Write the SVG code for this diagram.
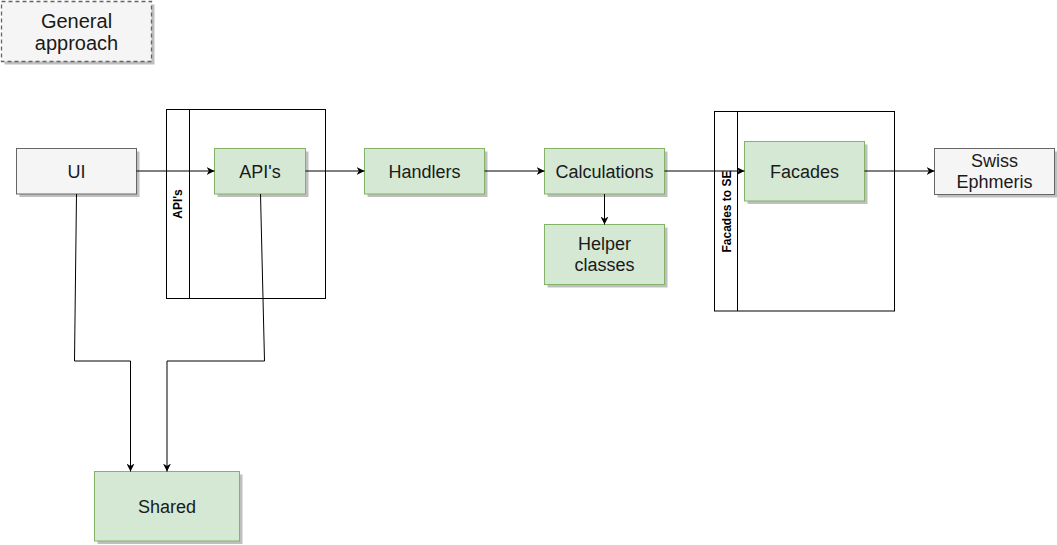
<svg xmlns="http://www.w3.org/2000/svg" width="1057" height="545" viewBox="0 0 1057 545">
<defs>
<style>
.t{font-family:"Liberation Sans",Arial,sans-serif;font-size:18px;fill:#1a1a1a;text-anchor:middle}
.lane{fill:#ffffff;stroke:#000000;stroke-width:1}
.lt{font-family:"Liberation Sans",Arial,sans-serif;font-size:12px;font-weight:bold;fill:#000;text-anchor:middle}
.green{fill:#d5e8d4;stroke:#82b366;stroke-width:1}
.gray{fill:#f5f5f5;stroke:#666666;stroke-width:1}
.sh{fill:#000;opacity:0.25}
.e{fill:none;stroke:#000;stroke-width:1}
</style>
<marker id="arr" viewBox="0 0 10 10" refX="10" refY="5" markerWidth="8" markerHeight="8" markerUnits="userSpaceOnUse" orient="auto">
<path d="M0,0 L10,5 L0,10 L3,5 Z" fill="#000"/>
</marker>
</defs>
<rect width="1057" height="545" fill="#ffffff"/>

<g id="general-approach">
<rect class="sh" x="4.5" y="4.5" width="150" height="60"/>
<rect x="1.5" y="1.5" width="150" height="60" fill="#f5f5f5" stroke="#666666" stroke-width="1.3" stroke-dasharray="4 3"/>
<text class="t" x="76.5" y="27.5" style="font-size:20px">General</text>
<text class="t" x="76.5" y="50" style="font-size:20px">approach</text>
</g>

<g id="apis-lane">
<rect class="lane" x="166.5" y="109.5" width="159" height="189"/>
<line x1="189.5" y1="109.5" x2="189.5" y2="298.5" stroke="#000"/>
<text class="lt" transform="translate(182,204) rotate(-90)">API's</text>
</g>

<g id="facades-lane">
<rect class="lane" x="714.5" y="111.5" width="180" height="199.5"/>
<line x1="737.5" y1="111.5" x2="737.5" y2="311" stroke="#000"/>
<text class="lt" transform="translate(730.5,211.5) rotate(-90)">Facades to SE</text>
</g>

<g id="ui">
<rect class="sh" x="19.5" y="151.5" width="120" height="45.5"/>
<rect class="gray" x="16.5" y="148.5" width="120" height="45.5"/>
<text class="t" x="76.5" y="177.5">UI</text>
</g>

<g id="apis">
<rect class="sh" x="217.5" y="151.5" width="91" height="45.5"/>
<rect class="green" x="214.5" y="148.5" width="91" height="45.5"/>
<text class="t" x="260" y="177.5">API's</text>
</g>

<g id="handlers">
<rect class="sh" x="367.5" y="151.5" width="120" height="45.5"/>
<rect class="green" x="364.5" y="148.5" width="120" height="45.5"/>
<text class="t" x="424.5" y="177.5">Handlers</text>
</g>

<g id="calculations">
<rect class="sh" x="547.5" y="151.5" width="120" height="45.5"/>
<rect class="green" x="544.5" y="148.5" width="120" height="45.5"/>
<text class="t" x="604.5" y="177.5">Calculations</text>
</g>

<g id="helper-classes">
<rect class="sh" x="547.5" y="227.5" width="120" height="60"/>
<rect class="green" x="544.5" y="224.5" width="120" height="60"/>
<text class="t" x="604.5" y="250">Helper</text>
<text class="t" x="604.5" y="271">classes</text>
</g>

<g id="facades">
<rect class="sh" x="747.5" y="144.5" width="120" height="59.5"/>
<rect class="green" x="744.5" y="141.5" width="120" height="59.5"/>
<text class="t" x="804.5" y="177.5">Facades</text>
</g>

<g id="swiss-ephmeris">
<rect class="sh" x="937.5" y="151.5" width="120" height="46"/>
<rect class="gray" x="934.5" y="148.5" width="120" height="46"/>
<text class="t" x="994.5" y="166.5">Swiss</text>
<text class="t" x="994.5" y="188">Ephmeris</text>
</g>

<g id="shared">
<rect class="sh" x="97.5" y="474.5" width="145" height="69.5"/>
<rect class="green" x="94.5" y="471.5" width="145" height="69.5"/>
<text class="t" x="167" y="513">Shared</text>
</g>

<g id="connectors">
<path class="e" d="M136.5,171 L214.5,171" marker-end="url(#arr)"/>
<path class="e" d="M305.5,171 L364.5,171" marker-end="url(#arr)"/>
<path class="e" d="M484.5,171 L544.5,171" marker-end="url(#arr)"/>
<path class="e" d="M664.5,171 L744.5,171" marker-end="url(#arr)"/>
<path class="e" d="M864.5,171 L934.5,171" marker-end="url(#arr)"/>
<path class="e" d="M604.5,194 L604.5,224.5" marker-end="url(#arr)"/>
<path class="e" d="M76.5,194 L74.5,361 L130.5,361 L130.5,471.5" marker-end="url(#arr)"/>
<path class="e" d="M260.5,194 L264.5,361 L167,361 L167,471.5" marker-end="url(#arr)"/>
</g>
</svg>
